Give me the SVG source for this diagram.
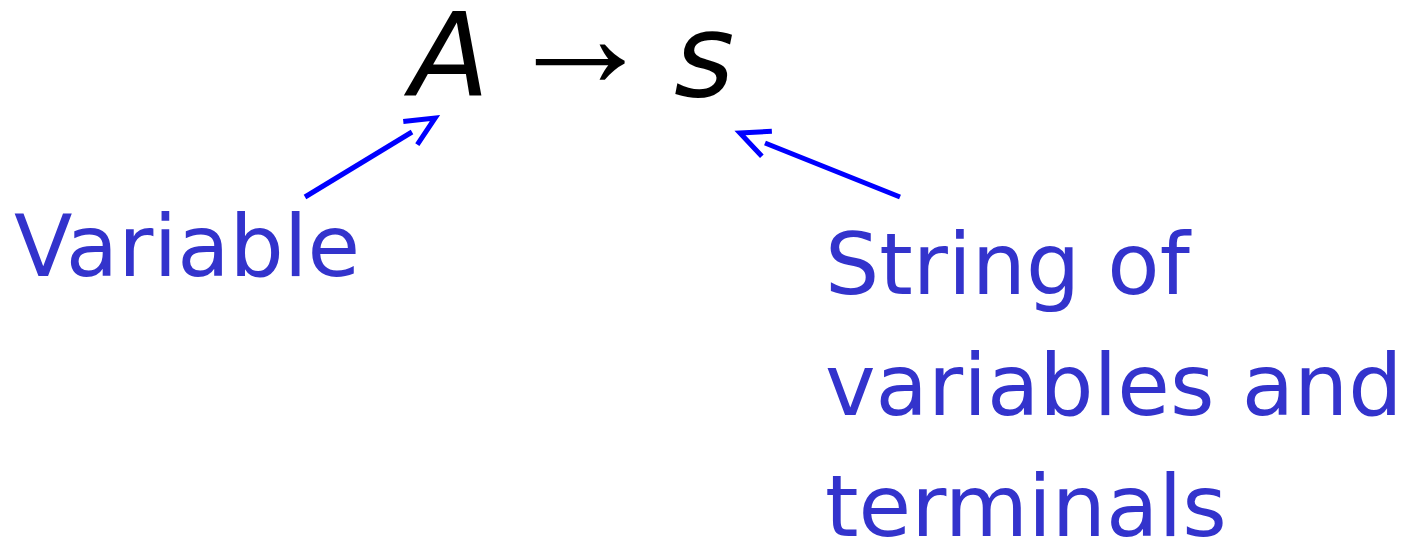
<svg xmlns="http://www.w3.org/2000/svg" width="1408" height="542" viewBox="0 0 1408 542">
<style>
.math{font-family:"DejaVu Sans",sans-serif;font-size:116px;fill:#000}
.it{font-style:italic}
.arr{font-family:"Liberation Serif",serif;font-size:150px;fill:#000}
.lbl{font-family:"DejaVu Sans",sans-serif;font-size:85.5px;fill:#3333CC}
.conn{stroke:#0000FF;stroke-width:5;fill:none}
</style>
<defs>
<marker id="head" markerUnits="userSpaceOnUse" markerWidth="60" markerHeight="60" refX="0" refY="0" viewBox="-30 -30 60 60" orient="auto" overflow="visible">
<path d="M -2,-13.5 L 27,0 L -2,13.5" fill="none" stroke="#0000FF" stroke-width="5" stroke-miterlimit="10"/>
</marker>
</defs>
<rect width="1408" height="542" fill="#fff"/>
<g id="formula">
<text class="math it" x="410" y="96">A</text>
<text class="arr" x="505" y="86.5">→</text>
<text class="math it" x="674" y="96">s</text>
</g>
<g id="variable">
<text class="lbl" x="14" y="276">Variable</text>
</g>
<g id="string">
<text class="lbl" x="825" y="294">String of</text>
<text class="lbl" x="825" y="415">variables and</text>
<text class="lbl" x="825" y="536">terminals</text>
</g>
<g id="connectors">
<line class="conn" x1="305" y1="197" x2="412" y2="132" marker-end="url(#head)"/>
<line class="conn" x1="900" y1="197" x2="765" y2="143" marker-end="url(#head)"/>
</g>
</svg>
